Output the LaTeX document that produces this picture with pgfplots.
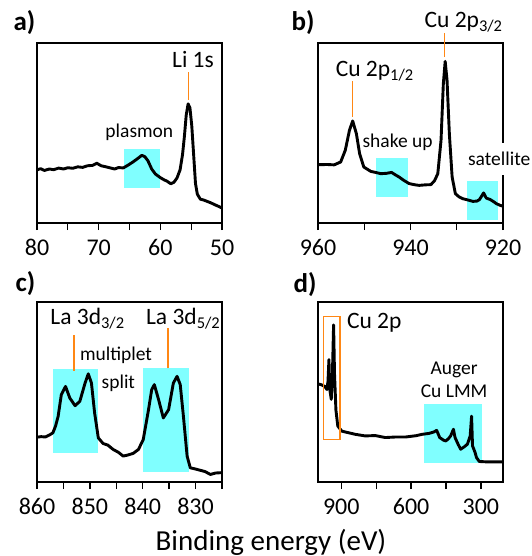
\documentclass[border=0pt]{standalone}
\usepackage{fontspec}
\setmainfont{Carlito}
\usepackage{pgfplots}
\pgfplotsset{compat=1.18}
\definecolor{hl}{RGB}{128,255,255}
\definecolor{pk}{RGB}{255,135,20}
\newcommand\lbl{\fontsize{23.5}{26}\selectfont}
\newcommand\sm{\fontsize{19.5}{22}\selectfont}

\pgfplotsset{xps/.style={
  scale only axis, width=185pt, height=180pt,
  x dir=reverse, ymin=0, ymax=1, ytick=\empty,
  xtick pos=bottom, tick align=outside,
  major tick length=7pt, minor tick length=7pt,
  every tick/.style={black, line width=1.3pt},
  axis line style={line width=1.4pt},
  /pgf/number format/assume math mode=true,
  /pgf/number format/1000 sep={},
  tick label style={font=\fontsize{24}{28}\selectfont, yshift=-6pt},
  clip=false, anchor=north west},
  spec/.style={black, line width=2.9pt, line join=round, mark=none}}

\begin{document}
\begin{tikzpicture}
\path[use as bounding box] (0pt,0pt) rectangle (531pt,-556pt);

% a) Li 1s
\begin{axis}[xps, at={(37pt,-43pt)}, xmin=50, xmax=80,
  xtick={80,70,60,50}, minor xtick={75,65,55}]
\fill[hl] (axis cs:65.85,0.197) rectangle (axis cs:60.04,0.411);
\addplot[spec] coordinates {
(80,0.295) (79.4,0.302) (78.8,0.292) (78,0.300) (77.3,0.296) (76.5,0.305)
(75.7,0.300) (75,0.307) (74.2,0.304) (73.4,0.312) (72.6,0.309) (71.8,0.318)
(71,0.320) (70.3,0.332) (69.6,0.318) (68.8,0.312) (68,0.305) (67.4,0.300)
(66.8,0.308) (66,0.306) (65.2,0.322) (64.4,0.340) (63.6,0.360) (63.0,0.376)
(62.5,0.368) (62.0,0.345) (61.4,0.300) (60.8,0.272) (60.0,0.252) (59.4,0.240)
(58.9,0.232) (58.3,0.218) (57.8,0.226) (57.3,0.250) (56.8,0.295) (56.4,0.380)
(56.1,0.480) (55.8,0.600) (55.5,0.662) (55.2,0.640) (54.9,0.540) (54.6,0.380)
(54.3,0.220) (54.0,0.160) (53.5,0.132) (53.0,0.128) (52.4,0.120) (51.8,0.112)
(51.2,0.102) (50.6,0.093) (50,0.083)};
\draw[pk, line width=1.3pt] (axis cs:55.4,0.686) -- (axis cs:55.4,0.839);
\node[font=\lbl, anchor=base] at (axis cs:54.7,0.865) {Li 1s};
\node[font=\sm] at (axis cs:63.4,0.504) {plasmon};
\end{axis}
\node[font=\fontsize{27}{30}\selectfont\bfseries, anchor=base west] at (10pt,-31pt) {a)};

% b) Cu 2p
\begin{axis}[xps, at={(318pt,-43pt)}, xmin=920, xmax=960,
  xtick={960,940,920}, minor xtick={950,930}]
\fill[hl] (axis cs:947.5,0.144) rectangle (axis cs:940.6,0.361);
\fill[hl] (axis cs:927.8,0.015) rectangle (axis cs:921.1,0.233);
\addplot[spec] coordinates {
(960,0.324) (958,0.325) (956.5,0.323) (955.1,0.339) (954.1,0.404) (953.2,0.515)
(952.5,0.567) (951.7,0.496) (951.0,0.385) (950.1,0.311) (948.6,0.287)
(947.4,0.280) (946.4,0.274) (945.2,0.276) (944.1,0.281) (943.3,0.268)
(942.5,0.256) (941.4,0.236) (940.3,0.219) (939.0,0.212) (938.1,0.209)
(936.8,0.212) (935.6,0.213) (934.8,0.235) (934.1,0.274) (933.4,0.459)
(932.9,0.774) (932.5,0.898) (932.1,0.793) (931.6,0.496) (931.0,0.256)
(930.3,0.163) (929.5,0.145) (928.7,0.135) (927.6,0.128) (926.5,0.120)
(925.6,0.122) (925.1,0.130) (924.6,0.150) (924.2,0.167) (923.6,0.138)
(922.8,0.131) (922.0,0.118) (921.4,0.107) (920.6,0.098) (920,0.093)};
\draw[pk, line width=1.3pt] (axis cs:952.5,0.589) -- (axis cs:952.5,0.787);
\draw[pk, line width=1.3pt] (axis cs:932.7,0.922) -- (axis cs:932.7,1.057);
\node[font=\lbl, anchor=base west, inner sep=0pt] at (axis cs:956.2,0.815) {Cu 2p\textsubscript{1/2}};
\node[font=\lbl, anchor=base west, inner sep=0pt] at (axis cs:937.0,1.085) {Cu 2p\textsubscript{3/2}};
\node[font=\sm, anchor=base west, inner sep=0pt] at (axis cs:950.4,0.422) {shake up};
\coordinate (sat) at (axis cs:927.6,0.317);
\end{axis}
\node[font=\sm, anchor=base west, fill=white, inner xsep=1pt, inner ysep=9pt] at ([xshift=-1pt]sat) {satellite};
\node[font=\fontsize{27}{30}\selectfont\bfseries, anchor=base west] at (288pt,-31pt) {b)};

% c) La 3d
\begin{axis}[xps, at={(37pt,-302pt)}, xmin=825, xmax=860,
  xtick={860,850,840,830}, minor xtick={855,845,835,825}]
\fill[hl] (axis cs:857.0,0.162) rectangle (axis cs:848.5,0.627);
\fill[hl] (axis cs:839.9,0.057) rectangle (axis cs:831.3,0.633);
\addplot[spec] coordinates {
(860,0.249) (859.2,0.252) (858.4,0.250) (857.6,0.262) (857.0,0.273)
(856.5,0.310) (856.0,0.365) (855.4,0.485) (854.6,0.531) (853.8,0.467)
(852.8,0.424) (851.9,0.448) (850.9,0.550) (850.3,0.601) (849.7,0.550)
(849.1,0.384) (848.4,0.245) (847.5,0.214) (846.6,0.205) (845.6,0.181)
(844.6,0.165) (843.7,0.144) (842.8,0.150) (841.8,0.159) (840.8,0.181)
(839.9,0.236) (838.9,0.402) (838.3,0.513) (837.8,0.541) (837.0,0.458)
(836.1,0.356) (835.1,0.402) (834.2,0.550) (833.5,0.587) (832.9,0.541)
(832.3,0.365) (831.6,0.144) (831.0,0.079) (830.0,0.072) (829.1,0.065)
(828.2,0.058) (827.2,0.042) (826.2,0.050) (825,0.052)};
\draw[pk, line width=1.3pt] (axis cs:853.0,0.618) -- (axis cs:853.0,0.814);
\draw[pk, line width=1.3pt] (axis cs:835.2,0.631) -- (axis cs:835.2,0.858);
\node[font=\lbl, anchor=base west, inner sep=0pt] at (axis cs:857.5,0.873) {La 3d\textsubscript{3/2}};
\node[font=\lbl, anchor=base west, inner sep=0pt] at (axis cs:839.4,0.873) {La 3d\textsubscript{5/2}};
\node[font=\sm, anchor=base west, inner sep=0pt] at (axis cs:851.9,0.675) {multiplet};
\node[font=\sm, anchor=base west, inner sep=0pt] at (axis cs:847.8,0.522) {split};
\end{axis}
\node[font=\fontsize{27}{30}\selectfont\bfseries, anchor=base west] at (12pt,-291pt) {c)};

% d) survey
\begin{axis}[xps, at={(318pt,-302pt)}, xmin=205, xmax=1000,
  xtick={900,600,300}, minor xtick={750,450}]
\fill[hl] (axis cs:545,0.105) rectangle (axis cs:296,0.431);
\addplot[spec] coordinates {
(1000,0.545) (985,0.540) (970,0.530) (962,0.514) (957,0.560) (953,0.680)
(950,0.520) (943,0.459) (938,0.600) (933,0.873) (929,0.600) (923,0.400)
(915,0.311) (898,0.283) (883,0.278) (840,0.265) (797,0.256) (754,0.258)
(711,0.247) (667,0.250) (624,0.250) (580,0.257) (552,0.265) (523,0.270)
(502,0.278) (490,0.287) (477,0.247) (460,0.232) (451,0.228) (440,0.240)
(430,0.256) (418,0.293) (411,0.247) (398,0.210) (387,0.182) (372,0.195)
(358,0.210) (346,0.256) (340,0.366) (336,0.201) (325,0.164) (319,0.136)
(307,0.114) (278,0.112) (240,0.112) (205,0.112)};
\draw[pk, line width=1.3pt] (axis cs:977,0.238) rectangle (axis cs:905,0.918);
\node[font=\lbl, anchor=base west, inner sep=0pt] at (axis cs:876,0.855) {Cu 2p};
\node[font=\sm, anchor=base] at (axis cs:415,0.597) {Auger};
\node[font=\sm, anchor=base] at (axis cs:415,0.468) {Cu LMM};
\end{axis}
\node[font=\fontsize{27}{30}\selectfont\bfseries, anchor=base west] at (290pt,-292pt) {d)};

\node[font=\fontsize{29}{32}\selectfont, anchor=base] at (271pt,-550pt) {Binding energy (eV)};
\end{tikzpicture}
\end{document}
